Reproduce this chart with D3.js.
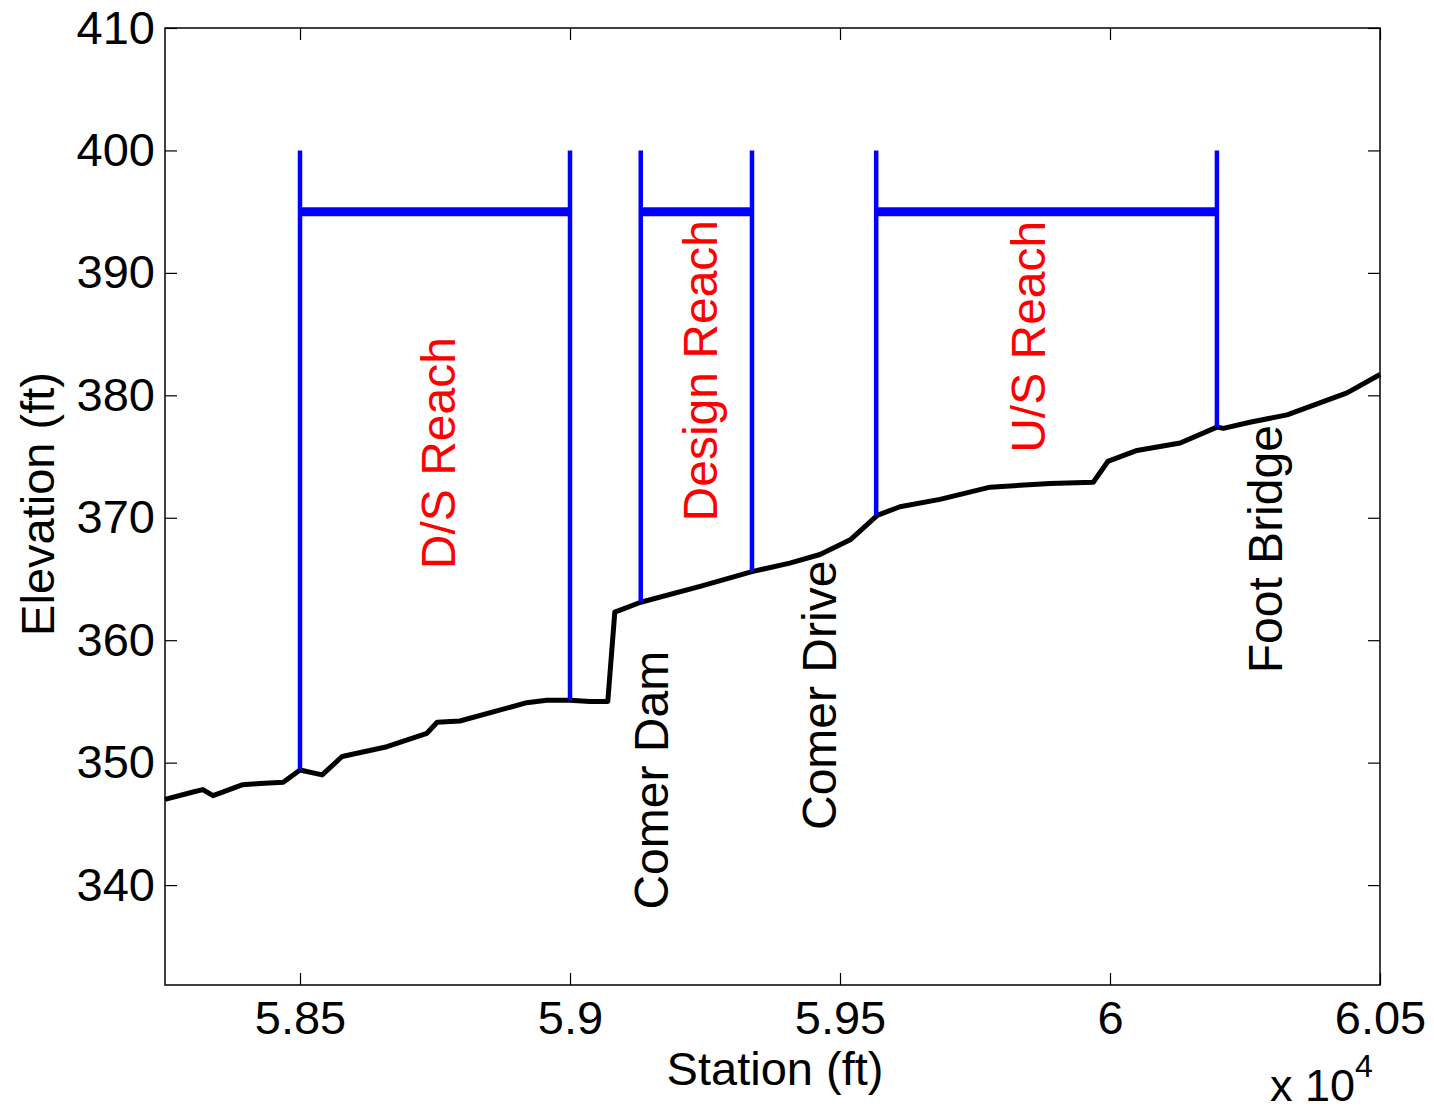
<html>
  <head>
    <title>Station profile</title>
    <script src="https://cdnjs.cloudflare.com/ajax/libs/d3/7.8.5/d3.min.js"></script>
  </head>
  <body>
    <svg id="profile"></svg>

    <style>
      body {
        margin: 0;
        background: #fff;
      }

      #profile {
        display: block;
        font-family: 'Liberation Sans', Arial, sans-serif;
      }

      .axis path.domain {
        stroke: none;
      }

      .axis line {
        stroke: #000;
        stroke-width: 1.2;
      }

      .axis text {
        font-size: 47px;
        fill: #000;
      }
    </style>

    <script>

      // Channel bed profile (station ft, elevation ft)
      const station = [58250, 58302, 58320, 58339, 58394, 58426, 58469, 58500, 58541, 58578,
        58661, 58735, 58754, 58796, 58920, 58957, 59000, 59037, 59070, 59083, 59131, 59241,
        59337, 59407, 59463, 59519, 59569, 59611, 59685, 59778, 59889, 59969, 59996, 60050,
        60130, 60198, 60210, 60259, 60328, 60439, 60500];
      const elevation = [347.0, 347.6, 347.8, 347.3, 348.2, 348.3, 348.4, 349.4, 349.0, 350.5,
        351.3, 352.4, 353.3, 353.4, 354.9, 355.1, 355.1, 355.0, 355.0, 362.3, 363.1, 364.4,
        365.6, 366.3, 367.0, 368.2, 370.2, 370.9, 371.5, 372.5, 372.8, 372.9, 374.6, 375.5,
        376.1, 377.4, 377.3, 377.8, 378.4, 380.2, 381.7];

      // Reach boundary markers
      const markerStation = [58500, 59000, 59131, 59337, 59567, 60198];
      const markerBottom = [349.4, 355.1, 363.1, 365.6, 370.2, 377.4];
      const markerTop = 400;

      // Reaches (horizontal bars)
      const reachStart = [58500, 59131, 59567];
      const reachEnd = [59000, 59337, 60198];
      const reachLevel = 395;

      // Labels (station, elevation at the start of the rotated text)
      const reachNames = ['D/S Reach', 'Design Reach', 'U/S Reach'];
      const reachLabelX = [58787, 59272, 59880];
      const reachLabelY = [365.8, 369.7, 375.3];
      const featureNames = ['Comer Dam', 'Comer Drive', 'Foot Bridge'];
      const featureLabelX = [59181, 59493, 60318];
      const featureLabelY = [338.0, 344.5, 357.3];

      // Axis ticks
      const xTicks = [58500, 59000, 59500, 60000, 60500];
      const yTicks = [340, 350, 360, 370, 380, 390, 400, 410];

      const margin = {top: 28, right: 54, bottom: 127, left: 165};
      const width = 1434 - margin.left - margin.right;
      const height = 1112 - margin.top - margin.bottom;

      const svg = d3.select('#profile')
        .attr('width', 1434)
        .attr('height', 1112);

      const g = svg.append('g')
        .attr('transform', 'translate(' + margin.left + ',' + margin.top + ')');

      const x = d3.scaleLinear().domain([58250, 60500]).range([0, width]);
      const y = d3.scaleLinear().domain([331.84, 410]).range([height, 0]);

      // Axes, ticks pointing inwards
      g.append('g')
        .attr('class', 'axis axis-x')
        .attr('transform', 'translate(0,' + height + ')')
        .call(d3.axisBottom(x).tickValues(xTicks).tickSize(-12).tickPadding(16)
          .tickFormat(d => String(+(d / 1e4).toFixed(4))));

      g.append('g')
        .attr('class', 'axis')
        .call(d3.axisTop(x).tickValues(xTicks).tickSize(-12).tickFormat(''));

      g.append('g')
        .attr('class', 'axis axis-y')
        .call(d3.axisLeft(y).tickValues(yTicks).tickSize(-12).tickPadding(10));

      g.append('g')
        .attr('class', 'axis')
        .attr('transform', 'translate(' + width + ',0)')
        .call(d3.axisRight(y).tickValues(yTicks).tickSize(-12).tickFormat(''));

      g.selectAll('.axis-x text').attr('dy', '0.71em');

      // Box
      g.append('rect')
        .attr('width', width)
        .attr('height', height)
        .attr('fill', 'none')
        .attr('stroke', '#000')
        .attr('stroke-width', 1.5);

      // Profile line
      const line = d3.line()
        .x((d, i) => x(station[i]))
        .y(d => y(d));

      g.append('path')
        .datum(elevation)
        .attr('d', line)
        .attr('fill', 'none')
        .attr('stroke', '#000')
        .attr('stroke-width', 5)
        .attr('stroke-linejoin', 'round');

      // Reach markers
      g.append('g')
        .selectAll('line')
        .data(markerStation)
        .enter().append('line')
        .attr('x1', d => x(d))
        .attr('x2', d => x(d))
        .attr('y1', (d, i) => y(markerBottom[i]))
        .attr('y2', y(markerTop))
        .attr('stroke', '#0000ff')
        .attr('stroke-width', 4.5);

      g.append('g')
        .selectAll('line')
        .data(reachStart)
        .enter().append('line')
        .attr('x1', d => x(d))
        .attr('x2', (d, i) => x(reachEnd[i]))
        .attr('y1', y(reachLevel))
        .attr('y2', y(reachLevel))
        .attr('stroke', '#0000ff')
        .attr('stroke-width', 9);

      // Rotated labels
      function rotatedLabels(names, xs, ys, color) {
        g.append('g')
          .selectAll('text')
          .data(names)
          .enter().append('text')
          .attr('transform', (d, i) => 'translate(' + x(xs[i]) + ',' + y(ys[i]) + ') rotate(-90)')
          .attr('font-size', 48)
          .attr('fill', color)
          .text(d => d);
      }

      rotatedLabels(reachNames, reachLabelX, reachLabelY, '#ff0000');
      rotatedLabels(featureNames, featureLabelX, featureLabelY, '#000');

      // Axis titles
      svg.append('text')
        .attr('x', 775)
        .attr('y', 1085)
        .attr('text-anchor', 'middle')
        .attr('font-size', 47)
        .text('Station (ft)');

      svg.append('text')
        .attr('transform', 'translate(54,504) rotate(-90)')
        .attr('text-anchor', 'middle')
        .attr('font-size', 47)
        .text('Elevation (ft)');

      const expo = svg.append('text')
        .attr('x', 1270)
        .attr('y', 1101)
        .attr('font-size', 45)
        .text('x 10');
      expo.append('tspan')
        .attr('dy', -24)
        .attr('font-size', 32)
        .text('4');

    </script>
  </body>
</html>
